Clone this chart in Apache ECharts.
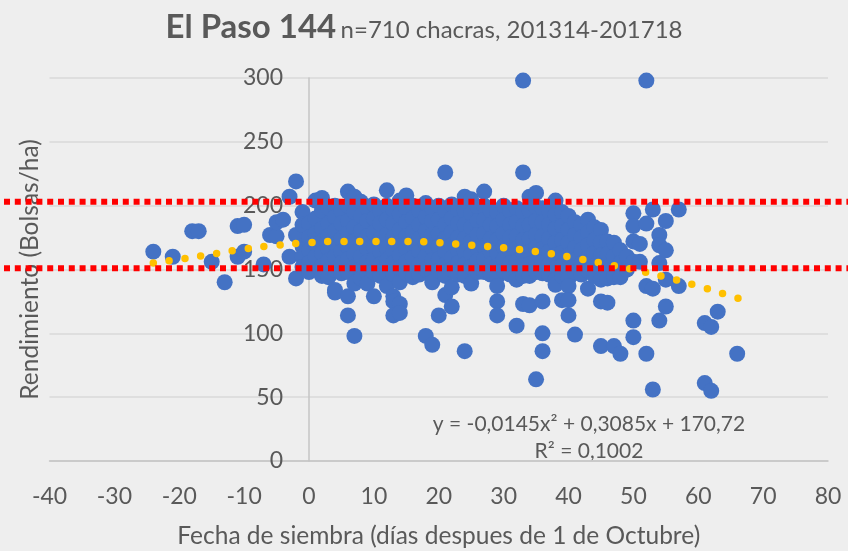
<!DOCTYPE html>
<html lang="es">
<head>
    <meta charset="UTF-8">
    <title>El Paso 144</title>
    <style>
        html, body {
            margin: 0;
            padding: 0;
            background: #eeeeee;
        }

        #chart {
            width: 848px;
            height: 551px;
        }
    </style>
</head>
<body>
<div id="chart"></div>
<script src="https://cdn.jsdelivr.net/npm/echarts@6/dist/echarts.min.js"></script>
<script type="text/javascript">
    // ejes
    const xMin = -40, xMax = 80, xStep = 10;
    const yMin = 0, yMax = 300, yStep = 50;

    // limites (lineas rojas)
    const limites = [203, 151];

    // curva de tendencia
    const tendencia = [
        [-24, 155], [-20, 158], [-15, 162], [-10, 166], [-5, 169], [0, 171], [5, 172], [10, 172],
        [15, 172], [20, 171], [25, 169], [30, 167], [35, 164], [40, 160], [45, 155], [50, 150],
        [55, 144], [60, 137], [67, 126]
    ];

    const ecuacion = 'y = -0,0145x² + 0,3085x + 170,72';
    const r2 = 'R² = 0,1002';

    // chacras: [dias despues de 1 oct, bolsas/ha]
    const chacras = [
        [-24, 164], [-21, 160], [-18, 180], [-17, 180], [-15, 156], [-13, 140], [-11, 160], [-11, 184],
        [-10, 185], [-10, 164], [-7, 154], [-6, 177], [-5, 176], [-5, 187], [-4, 189], [-3, 207],
        [-3, 160], [-2, 219], [-2, 177], [-2, 143],
        [-1, 195], [-1, 185], [-1, 168], [-1, 160], [-1, 152],
        [0, 186], [0, 175], [0, 165], [0, 155], [0, 148],
        [1, 204], [1, 190], [1, 178], [1, 170], [1, 160], [1, 150],
        [2, 206], [2, 196], [2, 182], [2, 172], [2, 163], [2, 153], [2, 145],
        [3, 198], [3, 186], [3, 176], [3, 166], [3, 157], [3, 144],
        [4, 200], [4, 191], [4, 180], [4, 170], [4, 160], [4, 150], [4, 134], [4, 132],
        [5, 196], [5, 186], [5, 174], [5, 164], [5, 155], [5, 147],
        [6, 211], [6, 200], [6, 188], [6, 178], [6, 168], [6, 158], [6, 148], [6, 129], [6, 114],
        [7, 207], [7, 195], [7, 183], [7, 172], [7, 162], [7, 152], [7, 139], [7, 98],
        [8, 203], [8, 192], [8, 180], [8, 170], [8, 160], [8, 150], [8, 143],
        [9, 198], [9, 188], [9, 176], [9, 166], [9, 156], [9, 147], [9, 139],
        [10, 201], [10, 190], [10, 179], [10, 168], [10, 158], [10, 148], [10, 129],
        [11, 196], [11, 186], [11, 174], [11, 164], [11, 154], [11, 145],
        [12, 212], [12, 200], [12, 189], [12, 177], [12, 167], [12, 157], [12, 147], [12, 137],
        [13, 197], [13, 186], [13, 175], [13, 165], [13, 155], [13, 146], [13, 129], [13, 125], [13, 114],
        [14, 204], [14, 193], [14, 181], [14, 171], [14, 161], [14, 151], [14, 140], [14, 123], [14, 116],
        [15, 208], [15, 198], [15, 187], [15, 176], [15, 166], [15, 156], [15, 147],
        [16, 200], [16, 190], [16, 179], [16, 169], [16, 159], [16, 149], [16, 144],
        [17, 196], [17, 185], [17, 174], [17, 164], [17, 154], [17, 146],
        [18, 202], [18, 191], [18, 180], [18, 170], [18, 160], [18, 150], [18, 98],
        [19, 198], [19, 188], [19, 177], [19, 167], [19, 157], [19, 147], [19, 140], [19, 91],
        [20, 200], [20, 189], [20, 178], [20, 168], [20, 158], [20, 149], [20, 114],
        [21, 226], [21, 196], [21, 185], [21, 174], [21, 164], [21, 154], [21, 145], [21, 130],
        [22, 201], [22, 190], [22, 179], [22, 169], [22, 159], [22, 150], [22, 136], [22, 121],
        [23, 197], [23, 186], [23, 175], [23, 165], [23, 155], [23, 146],
        [24, 207], [24, 196], [24, 185], [24, 174], [24, 164], [24, 154], [24, 145], [24, 86],
        [25, 205], [25, 194], [25, 183], [25, 172], [25, 162], [25, 152], [25, 139],
        [26, 199], [26, 188], [26, 177], [26, 167], [26, 157], [26, 148],
        [27, 211], [27, 200], [27, 189], [27, 178], [27, 168], [27, 158], [27, 148],
        [28, 196], [28, 185], [28, 174], [28, 164], [28, 154], [28, 146],
        [29, 195], [29, 184], [29, 173], [29, 163], [29, 153], [29, 144], [29, 137], [29, 125], [29, 114],
        [30, 200], [30, 189], [30, 178], [30, 168], [30, 158], [30, 149],
        [31, 196], [31, 185], [31, 175], [31, 165], [31, 155], [31, 146],
        [32, 198], [32, 187], [32, 176], [32, 166], [32, 156], [32, 147], [32, 142], [32, 106],
        [33, 298], [33, 226], [33, 195], [33, 184], [33, 173], [33, 163], [33, 153], [33, 145], [33, 123],
        [34, 207], [34, 196], [34, 185], [34, 174], [34, 164], [34, 154], [34, 145], [34, 122],
        [35, 210], [35, 199], [35, 188], [35, 177], [35, 167], [35, 157], [35, 148], [35, 64],
        [36, 198], [36, 187], [36, 176], [36, 166], [36, 156], [36, 147], [36, 125], [36, 100], [36, 86],
        [37, 196], [37, 185], [37, 174], [37, 164], [37, 154], [37, 146],
        [38, 204], [38, 193], [38, 182], [38, 171], [38, 161], [38, 151], [38, 142], [38, 138],
        [39, 195], [39, 184], [39, 173], [39, 163], [39, 153], [39, 145], [39, 126],
        [40, 192], [40, 181], [40, 171], [40, 161], [40, 151], [40, 143], [40, 137], [40, 126], [40, 114],
        [41, 187], [41, 177], [41, 167], [41, 157], [41, 148], [41, 99],
        [42, 185], [42, 175], [42, 165], [42, 155], [42, 146],
        [43, 189], [43, 179], [43, 169], [43, 159], [43, 149], [43, 135],
        [44, 183], [44, 173], [44, 163], [44, 153], [44, 145],
        [45, 181], [45, 171], [45, 161], [45, 151], [45, 142], [45, 125], [45, 90],
        [46, 172], [46, 162], [46, 152], [46, 143], [46, 124],
        [47, 171], [47, 160], [47, 150], [47, 144], [47, 90],
        [48, 165], [48, 155], [48, 144], [48, 84],
        [49, 160], [49, 150],
        [50, 194], [50, 184], [50, 172], [50, 156], [50, 110], [50, 97],
        [51, 170], [51, 156],
        [52, 298], [52, 186], [52, 137], [52, 84],
        [53, 197], [53, 135], [53, 56],
        [54, 177], [54, 169], [54, 155], [54, 110],
        [55, 188], [55, 165], [55, 142], [55, 121],
        [57, 197], [57, 137],
        [61, 108], [61, 61], [62, 105], [62, 55], [63, 117], [66, 84]
    ];

    const textColor = '#595959';
    const fuente = 'Lato, "Open Sans", sans-serif';

    let myChart = echarts.init(document.getElementById('chart'));

    let series = [
        {
            type: 'scatter',
            data: chacras,
            symbolSize: 16,
            itemStyle: {color: '#4472C4', opacity: 1},
            z: 2,
            silent: true
        },
        {
            type: 'line',
            data: tendencia,
            smooth: true,
            showSymbol: false,
            symbol: 'none',
            lineStyle: {color: '#FFC000', width: 7.5, type: [0, 16], cap: 'round'},
            z: 3,
            silent: true
        }
    ];
    limites.forEach(v => {
        series.push({
            type: 'line',
            xAxisIndex: 1,
            yAxisIndex: 1,
            data: [[0, v], [1, v]],
            symbol: 'none',
            lineStyle: {color: '#FF0000', width: 6, type: [6, 4.8], cap: 'butt'},
            z: 4,
            silent: true
        });
    });

    myChart.setOption({
        backgroundColor: '#eeeeee',
        animation: false,
        textStyle: {fontFamily: fuente, color: textColor},
        title: {
            text: '{a|El Paso 144} {b|n=710 chacras, 201314-201718}',
            left: 'center',
            top: 6,
            textStyle: {
                rich: {
                    a: {fontSize: 33, fontWeight: 'bold', color: textColor, fontFamily: fuente},
                    b: {fontSize: 24, fontWeight: 'normal', color: textColor, fontFamily: fuente, padding: [6, 0, 0, 0]}
                }
            }
        },
        grid: [
            {left: 49.5, right: 20, top: 78, bottom: 90, outerBoundsMode: 'none'},
            {left: 4, right: 0, top: 78, bottom: 90, outerBoundsMode: 'none'}
        ],
        xAxis: [
            {
                type: 'value',
                min: xMin,
                max: xMax,
                interval: xStep,
                name: 'Fecha de siembra (días despues de 1 de Octubre)',
                nameLocation: 'middle',
                nameGap: 63,
                nameTextStyle: {fontSize: 24.5, color: textColor},
                axisLine: {lineStyle: {color: '#c4c4c4', width: 1.5}},
                axisTick: {show: false},
                splitLine: {show: false},
                axisLabel: {fontSize: 23, color: textColor, margin: 24}
            },
            {gridIndex: 1, type: 'value', min: 0, max: 1, show: false}
        ],
        yAxis: [
            {
                type: 'value',
                min: yMin,
                max: yMax,
                interval: yStep,
                // eje en x = 0: 40 de 120 unidades del ancho del grid
                offset: -259.5,
                name: 'Rendimiento (Bolsas/ha)',
                nameLocation: 'middle',
                nameRotate: 90,
                nameGap: 266,
                nameTextStyle: {fontSize: 24.5, color: textColor},
                axisLine: {show: true, onZero: false, lineStyle: {color: '#c4c4c4', width: 1.5}},
                axisTick: {show: false},
                splitLine: {lineStyle: {color: '#d9d9d9', width: 1.5}},
                axisLabel: {fontSize: 23, color: textColor, margin: 26}
            },
            {gridIndex: 1, type: 'value', min: yMin, max: yMax, show: false}
        ],
        graphic: [
            {
                type: 'text',
                x: 589,
                y: 424,
                style: {text: ecuacion, fill: textColor, font: '21px ' + fuente, align: 'center', verticalAlign: 'middle'}
            },
            {
                type: 'text',
                x: 589,
                y: 451,
                style: {text: r2, fill: textColor, font: '21px ' + fuente, align: 'center', verticalAlign: 'middle'}
            }
        ],
        series: series
    });
</script>
</body>
</html>
